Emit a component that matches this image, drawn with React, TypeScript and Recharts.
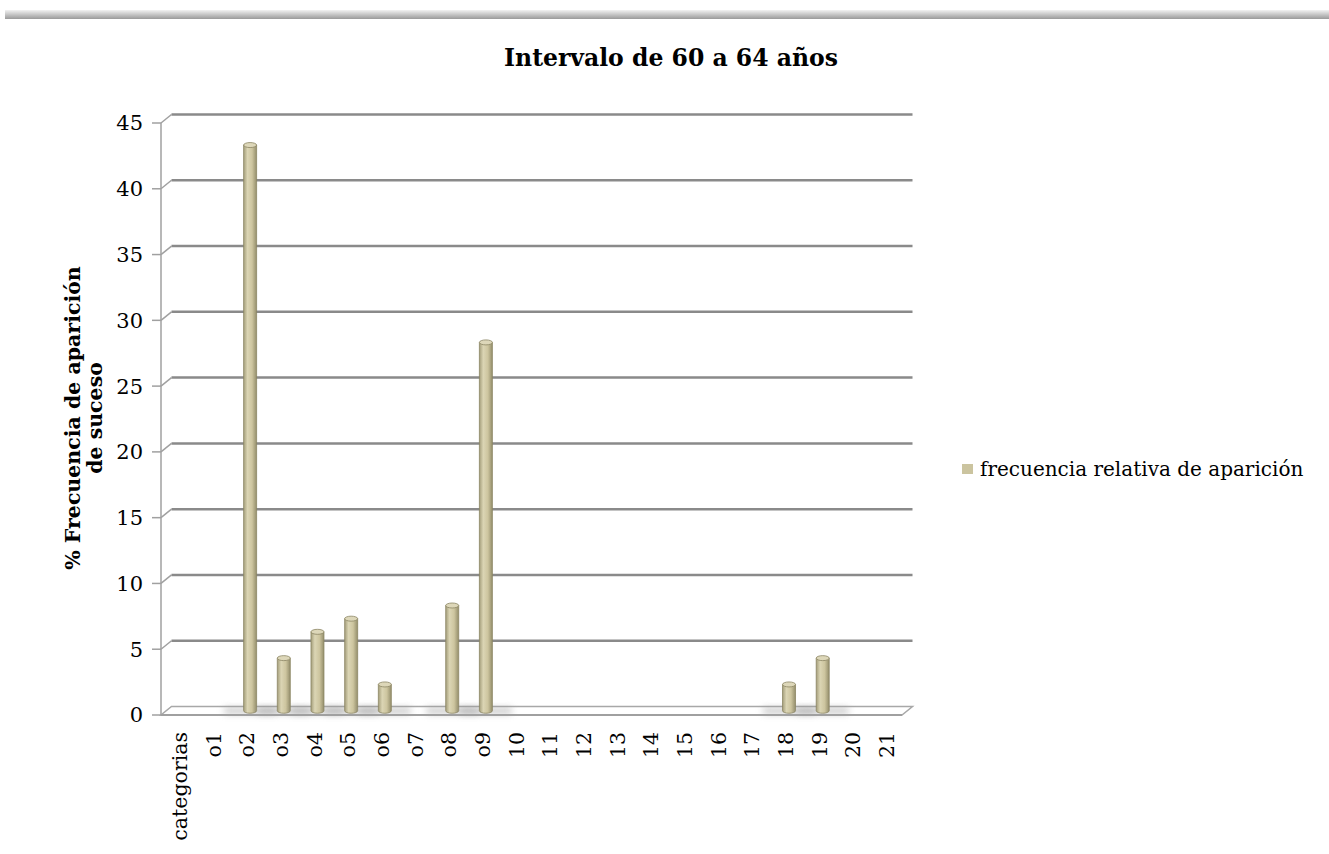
import { BarChart, Bar, XAxis, YAxis, CartesianGrid, Legend } from 'recharts'

const categories = [
  'categorias', 'o1', 'o2', 'o3', 'o4', 'o5', 'o6', 'o7', 'o8', 'o9',
  '10', '11', '12', '13', '14', '15', '16', '17', '18', '19', '20', '21',
]
const frecuencia = [0, 0, 43, 4, 6, 7, 2, 0, 8, 28, 0, 0, 0, 0, 0, 0, 0, 0, 2, 4, 0, 0]
const yTicks = [0, 5, 10, 15, 20, 25, 30, 35, 40, 45]

const SERIES_NAME = 'frecuencia relativa de aparición'
const TITLE = 'Intervalo de 60 a 64 años'
const Y_LABEL_1 = '% Frecuencia de aparición'
const Y_LABEL_2 = 'de suceso'

const FONT = '"DejaVu Serif", serif'
// 3D depth of the wall / floor
const DEPTH_X = 10.5
const DEPTH_Y = 8.5

const data = categories.map((c, i) => ({ cat: c, value: frecuencia[i] }))

function GridLine(props: any) {
  const { x1, y1, x2, y, height } = props
  const isFloor = Math.abs(y1 - (y + height)) < 1
  if (isFloor) {
    return (
      <g>
        <polygon
          points={`${x1},${y1} ${x2},${y1} ${x2 + DEPTH_X},${y1 - DEPTH_Y} ${x1 + DEPTH_X},${y1 - DEPTH_Y}`}
          fill="#ffffff"
          stroke="#a8a8a8"
          strokeWidth={1.5}
        />
      </g>
    )
  }
  return (
    <g>
      <line x1={x1} y1={y1} x2={x1 + DEPTH_X} y2={y1 - DEPTH_Y} stroke="#a0a0a0" strokeWidth={1.5} />
      <line x1={x1 + DEPTH_X} y1={y1 - DEPTH_Y} x2={x2 + DEPTH_X} y2={y1 - DEPTH_Y} stroke="#8a8a8a" strokeWidth={2.5} />
    </g>
  )
}

function Cylinder(props: any) {
  const { x, y, width, height } = props
  if (!height || height <= 0) return <g />
  const dx = DEPTH_X / 2
  const dy = DEPTH_Y / 2
  const left = x + dx
  const top = y - dy
  const bottom = y + height - dy
  const cx = left + width / 2
  const ry = 2.5
  return (
    <g>
      <rect x={cx - 26} y={bottom - 3} width={52} height={6} fill="#9a9a9a" opacity={0.55} filter="url(#floorShadow)" />
      <path
        d={`M${left},${top} L${left},${bottom} A${width / 2},${ry} 0 0 0 ${left + width},${bottom} L${left + width},${top} Z`}
        fill="url(#cylGrad)"
        stroke="#8b8563"
        strokeWidth={0.8}
      />
      <ellipse cx={cx} cy={top} rx={width / 2} ry={ry} fill="#ddd7b9" stroke="#8b8563" strokeWidth={0.8} />
    </g>
  )
}

function CategoryTick(props: any) {
  const { x, y, payload } = props
  return (
    <text
      transform={`translate(${x + 9},${y + 9}) rotate(-90)`}
      textAnchor="end"
      fill="#000"
      fontSize={20.5}
      fontFamily={FONT}
    >
      {payload.value}
    </text>
  )
}

function YTitle() {
  return (
    <g fontFamily={FONT} fontWeight="bold" fontSize={20.5} fill="#000">
      <text transform="translate(79.5,418) rotate(-90)" textAnchor="middle">{Y_LABEL_1}</text>
      <text transform="translate(101.5,418) rotate(-90)" textAnchor="middle">{Y_LABEL_2}</text>
    </g>
  )
}

function LegendBox() {
  return (
    <div style={{ display: 'flex', alignItems: 'center', fontFamily: FONT, fontSize: 20, color: '#000', whiteSpace: 'nowrap' }}>
      <span style={{ display: 'inline-block', width: 11, height: 10, background: '#cbc49f', marginRight: 7 }} />
      <span>{SERIES_NAME}</span>
    </div>
  )
}

export default function App() {
  return (
    <div style={{ position: 'absolute', left: 0, top: 0, width: 1329, height: 854, background: '#fff' }}>
      <div
        style={{
          position: 'absolute', left: 5, top: 10, width: 1324, height: 9,
          background: 'linear-gradient(to bottom, #f2f2f2, #9a9a9a)',
        }}
      />
      <div
        style={{
          position: 'absolute', left: 0, top: 44, width: 1342, textAlign: 'center',
          fontFamily: FONT, fontWeight: 'bold', fontSize: 23.5, color: '#000', lineHeight: '28px',
        }}
      >
        {TITLE}
      </div>
      <BarChart
        width={1329}
        height={854}
        data={data}
        margin={{ top: 123, right: 427, bottom: 39, left: 101 }}
        barSize={13}
      >
        <defs>
          <linearGradient id="cylGrad" x1="0" y1="0" x2="1" y2="0">
            <stop offset="0%" stopColor="#a49e7b" />
            <stop offset="30%" stopColor="#dbd5b4" />
            <stop offset="65%" stopColor="#cdc59f" />
            <stop offset="100%" stopColor="#948e6b" />
          </linearGradient>
          <filter id="floorShadow" x="-50%" y="-200%" width="200%" height="500%">
            <feGaussianBlur stdDeviation="3.5" />
          </filter>
        </defs>
        <CartesianGrid horizontal={GridLine} vertical={false} />
        <XAxis
          dataKey="cat"
          interval={0}
          height={100}
          axisLine={{ stroke: '#a0a0a0', strokeWidth: 2 }}
          tickLine={false}
          tick={CategoryTick}
        />
        <YAxis
          width={60}
          domain={[0, 45]}
          ticks={yTicks}
          interval={0}
          axisLine={{ stroke: '#a0a0a0', strokeWidth: 1.5 }}
          tickLine={{ stroke: '#a0a0a0', strokeWidth: 1.5 }}
          tickSize={9}
          tickMargin={9}
          tick={{ fill: '#000', fontSize: 21, fontFamily: FONT }}
          label={{ content: YTitle }}
        />
        <Legend
          layout="horizontal"
          verticalAlign="middle"
          align="center"
          wrapperStyle={{ left: 962, top: 457, width: 365 }}
          content={LegendBox}
        />
        <Bar dataKey="value" name={SERIES_NAME} fill="#cbc49f" shape={Cylinder} isAnimationActive={false} />
      </BarChart>
    </div>
  )
}
